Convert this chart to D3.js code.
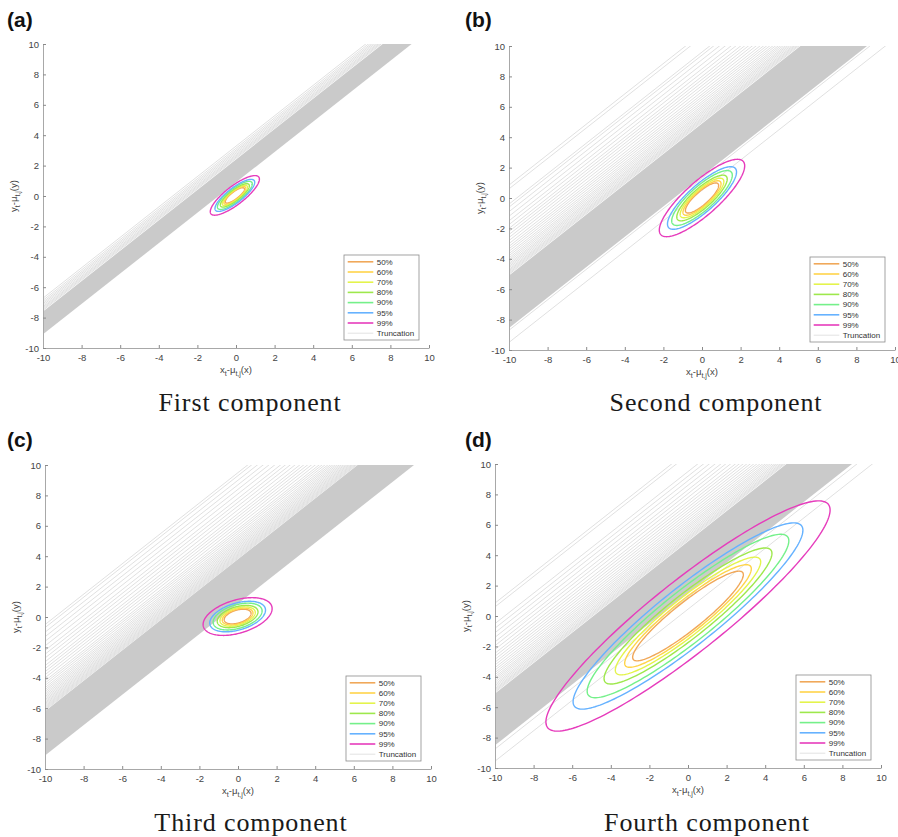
<!DOCTYPE html>
<html>
<head>
<meta charset="utf-8">
<script src="https://cdn.jsdelivr.net/npm/d3@7"></script>
<style>
  html, body { margin: 0; padding: 0; background: #fff; overflow: hidden; }
  svg { display: block; }
</style>
</head>
<body>
<svg id="chart" width="898" height="837"></svg>
<script>
// ---- data ----
var tickValues = [-10, -8, -6, -4, -2, 0, 2, 4, 6, 8, 10];
var levels = ["50%", "60%", "70%", "80%", "90%", "95%", "99%"];
// mahalanobis radius of each contour level
var levelRadius = [1.18, 1.35, 1.55, 1.79, 2.15, 2.45, 3.03];
var levelColors = ["#f0a85a", "#ffd44a", "#e4f44c", "#9ee84c", "#74f08a", "#66b2ff", "#e63cbc"];

var panelLetters = ["(a)", "(b)", "(c)", "(d)"];
var panelTitles = ["First component", "Second component", "Third component", "Fourth component"];

// truncation lines y = x + c : solid band [lo, hi] and loose lines
var bandA = [0.9, 2.4];
var linesA = [2.48, 2.56, 2.64, 2.72, 2.82, 2.92, 3.02, 3.14, 3.28];
var bandB = [1.45, 4.9];
var linesB = [0.5, 1.3, 4.98, 5.06, 5.14, 5.22, 5.3, 5.4, 5.5, 5.6, 5.7, 5.82, 5.94, 6.06, 6.2, 6.34, 6.5, 6.66, 6.82, 7.0, 7.2, 7.4, 7.6, 7.8, 8.0, 8.25, 8.5, 8.8, 9.1, 9.4, 9.6, 10.6, 10.85];
var bandC = [0.88, 3.8];
var linesC = [3.86, 3.93, 4.0, 4.07, 4.14, 4.22, 4.3, 4.38, 4.47, 4.56, 4.66, 4.76, 4.87, 4.98, 5.1, 5.22, 5.35, 5.5, 5.65, 5.8, 6.0, 6.2, 6.4, 6.6, 6.8, 7.05, 7.3, 7.55, 7.8, 8.1, 8.4, 8.7, 9.0, 9.3, 9.5];
var bandD = [1.5, 4.9];
var linesD = [0.45, 1.25, 4.98, 5.06, 5.14, 5.22, 5.32, 5.42, 5.52, 5.64, 5.76, 5.88, 6.0, 6.14, 6.28, 6.44, 6.6, 6.78, 6.96, 7.15, 7.35, 7.55, 7.8, 8.05, 8.3, 8.6, 8.9, 9.2, 9.5, 10.6, 10.85];

// fitted ellipse of each component: centre, spread, correlation
var ellipseA = { mx: -0.06, my: 0.04, sx: 0.42, sy: 0.43, rho: 0.82 };
var ellipseB = { mx: 0.0, my: 0.0, sx: 0.73, sy: 0.84, rho: 0.83 };
var ellipseC = { mx: -0.02, my: 0.03, sx: 0.59, sy: 0.41, rho: 0.42 };
var ellipseD = { mx: 0.0, my: 0.0, sx: 2.43, sy: 2.5, rho: 0.92 };

var panelBands = [bandA, bandB, bandC, bandD];
var panelLines = [linesA, linesB, linesC, linesD];
var panelEllipses = [ellipseA, ellipseB, ellipseC, ellipseD];

// ---- layout ----
var layout = [
  { x0: 43, x1: 429, y0: 44, y1: 348, lx: 7, ly: 27, tx: 250, ty: 411 },
  { x0: 509, x1: 895, y0: 46, y1: 350, lx: 465, ly: 27, tx: 716, ty: 411 },
  { x0: 45, x1: 431, y0: 465, y1: 769, lx: 7, ly: 447, tx: 251, ty: 831 },
  { x0: 495, x1: 881, y0: 464, y1: 768, lx: 465, ly: 447, tx: 707, ty: 831 }
];

var svg = d3.select("#chart");
var defs = svg.append("defs");

layout.forEach(function(L, i) {
  var x = d3.scaleLinear().domain([-10, 10]).range([L.x0, L.x1]);
  var y = d3.scaleLinear().domain([-10, 10]).range([L.y1, L.y0]);

  defs.append("clipPath")
    .attr("id", "clip" + i)
    .append("rect")
    .attr("x", L.x0)
    .attr("y", L.y0)
    .attr("width", L.x1 - L.x0)
    .attr("height", L.y1 - L.y0);

  var g = svg.append("g");
  var plot = g.append("g").attr("clip-path", "url(#clip" + i + ")");

  // solid band of truncation lines
  var band = panelBands[i];
  var area = d3.area()
    .x(function(d) { return x(d); })
    .y0(function(d) { return y(d + band[0]); })
    .y1(function(d) { return y(d + band[1]); });
  plot.append("path")
    .datum([-10, 10])
    .attr("d", area)
    .attr("fill", "#cacaca");

  // loose truncation lines
  plot.selectAll("line.trunc")
    .data(panelLines[i])
    .enter()
    .append("line")
    .attr("class", "trunc")
    .attr("x1", x(-10))
    .attr("y1", function(c) { return y(-10 + c); })
    .attr("x2", x(10))
    .attr("y2", function(c) { return y(10 + c); })
    .attr("stroke", "#d6d6d6")
    .attr("stroke-width", 0.75);

  // contour ellipses
  var e = panelEllipses[i];
  var ts = d3.range(0, 2 * Math.PI, Math.PI / 90);
  var k = Math.sqrt(1 - e.rho * e.rho);
  levelRadius.forEach(function(r, j) {
    var line = d3.line()
      .x(function(t) { return x(e.mx + r * e.sx * Math.cos(t)); })
      .y(function(t) { return y(e.my + r * e.sy * (e.rho * Math.cos(t) + k * Math.sin(t))); })
      .curve(d3.curveLinearClosed);
    plot.append("path")
      .datum(ts)
      .attr("d", line)
      .attr("fill", "none")
      .attr("stroke", levelColors[j])
      .attr("stroke-width", 1.4);
  });

  // axes (plain hyphen minus like the original)
  var fmt = function(d) { return String(d); };
  var xAxis = d3.axisBottom(x).tickValues(tickValues).tickFormat(fmt).tickSizeInner(-3).tickSizeOuter(0).tickPadding(6);
  var yAxis = d3.axisLeft(y).tickValues(tickValues).tickFormat(fmt).tickSizeInner(-3).tickSizeOuter(0).tickPadding(4);

  var gx = g.append("g").attr("transform", "translate(0," + L.y1 + ")").call(xAxis);
  var gy = g.append("g").attr("transform", "translate(" + L.x0 + ",0)").call(yAxis);
  [gx, gy].forEach(function(ax) {
    ax.select(".domain").attr("stroke", "#a8a8a8").attr("stroke-width", 1);
    ax.selectAll(".tick line").attr("stroke", "#8a8a8a");
    ax.selectAll(".tick text")
      .attr("fill", "#444")
      .style("font-family", "Liberation Sans, Arial, sans-serif")
      .style("font-size", "9.5px");
  });

  // axis labels
  var xl = g.append("text")
    .attr("x", (L.x0 + L.x1) / 2)
    .attr("y", L.y1 + 25)
    .attr("text-anchor", "middle")
    .attr("fill", "#444")
    .style("font-family", "Liberation Sans, Arial, sans-serif")
    .style("font-size", "9.5px");
  xl.append("tspan").text("x");
  xl.append("tspan").attr("baseline-shift", "-3").style("font-size", "7px").text("t");
  xl.append("tspan").text("-\u03bc");
  xl.append("tspan").attr("baseline-shift", "-3").style("font-size", "7px").text("t,j");
  xl.append("tspan").text("(x)");

  var yl = g.append("text")
    .attr("transform", "translate(" + (L.x0 - 26) + "," + ((L.y0 + L.y1) / 2) + ") rotate(-90)")
    .attr("text-anchor", "middle")
    .attr("fill", "#444")
    .style("font-family", "Liberation Sans, Arial, sans-serif")
    .style("font-size", "9.5px");
  yl.append("tspan").text("y");
  yl.append("tspan").attr("baseline-shift", "-3").style("font-size", "7px").text("t");
  yl.append("tspan").text("-\u03bc");
  yl.append("tspan").attr("baseline-shift", "-3").style("font-size", "7px").text("t,j");
  yl.append("tspan").text("(y)");

  // legend
  var lw = 75, lh = 85;
  var lx = L.x1 - 10 - lw, ly = L.y1 - 8 - lh;
  var leg = g.append("g").attr("transform", "translate(" + lx + "," + ly + ")");
  leg.append("rect")
    .attr("width", lw)
    .attr("height", lh)
    .attr("fill", "#fff")
    .attr("stroke", "#8c8c8c")
    .attr("stroke-width", 0.8);
  var items = levels.map(function(l, j) { return { label: l, color: levelColors[j], w: 1.6 }; });
  items.push({ label: "Truncation", color: "#dcdcdc", w: 0.8 });
  var row = leg.selectAll("g.item")
    .data(items)
    .enter()
    .append("g")
    .attr("class", "item")
    .attr("transform", function(d, j) { return "translate(0," + (6.8 + j * 10.2) + ")"; });
  row.append("line")
    .attr("x1", 3.7)
    .attr("x2", 29.3)
    .attr("stroke", function(d) { return d.color; })
    .attr("stroke-width", function(d) { return d.w; });
  row.append("text")
    .attr("x", 32.7)
    .attr("dy", "0.35em")
    .attr("fill", "#333")
    .style("font-family", "Liberation Sans, Arial, sans-serif")
    .style("font-size", "8px")
    .text(function(d) { return d.label; });

  // panel letter and title
  g.append("text")
    .attr("x", L.lx)
    .attr("y", L.ly)
    .attr("fill", "#111")
    .style("font-family", "Liberation Sans, Arial, sans-serif")
    .style("font-size", "21px")
    .style("font-weight", "bold")
    .text(panelLetters[i]);

  g.append("text")
    .attr("x", L.tx)
    .attr("y", L.ty)
    .attr("text-anchor", "middle")
    .attr("fill", "#1a1a1a")
    .style("font-family", "Liberation Serif, DejaVu Serif, serif")
    .style("font-size", "26px")
    .style("letter-spacing", "0.9px")
    .text(panelTitles[i]);
});
</script>
</body>
</html>
